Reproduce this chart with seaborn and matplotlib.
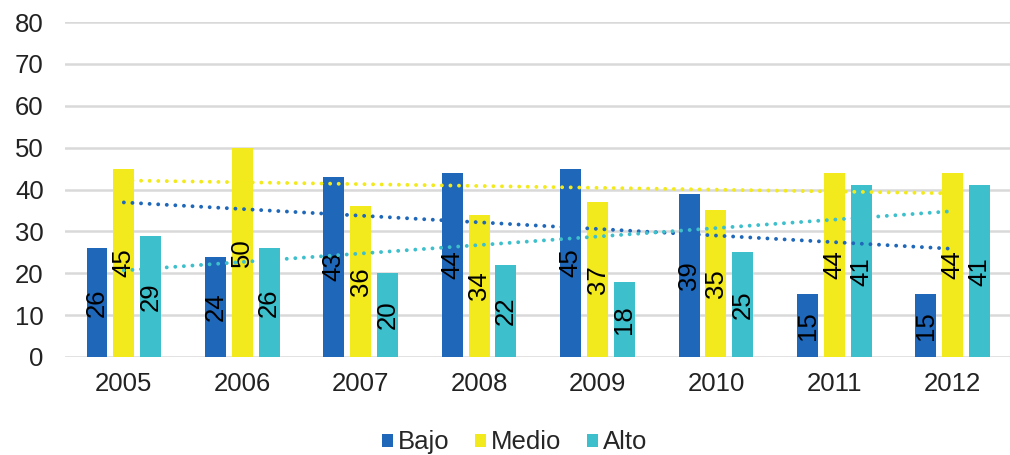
import matplotlib
matplotlib.use("Agg")
import matplotlib.pyplot as plt
import numpy as np
import pandas as pd
import seaborn as sns

years = ["2005", "2006", "2007", "2008", "2009", "2010", "2011", "2012"]
bajo = [26, 24, 43, 44, 45, 39, 15, 15]
medio = [45, 50, 36, 34, 37, 35, 44, 44]
alto = [29, 26, 20, 22, 18, 25, 41, 41]
series = ["Bajo", "Medio", "Alto"]
colors = ["#1f67b9", "#f2ea1c", "#3dbfcc"]

df = pd.DataFrame({"Año": years * 3,
                   "Nivel": np.repeat(series, len(years)),
                   "Valor": bajo + medio + alto})

sns.set_style("white")
plt.rcParams["font.family"] = ["Liberation Sans", "DejaVu Sans"]

fig = plt.figure(figsize=(10.1, 4.55), dpi=100)
ax = fig.add_axes([0.064, 0.2154, 0.938, 0.7362])

sns.barplot(data=df, x="Año", y="Valor", hue="Nivel", palette=colors,
            width=0.68, gap=0.22, saturation=1, linewidth=0, ax=ax, zorder=2)

for cont in ax.containers:
    ax.bar_label(cont, label_type="center", rotation=90, fontsize=18.5, color="black")

# linear trend lines (Excel style)
x = np.arange(len(years))
for vals, c in zip([bajo, medio, alto], colors):
    m, b = np.polyfit(x, vals, 1)
    ax.plot(x, m * x + b, linestyle=(0, (0.01, 2.2)), color=c, linewidth=2.8,
            dash_capstyle="round", solid_capstyle="round", zorder=3)

ax.set_ylim(0, 80)
ax.set_yticks(range(0, 81, 10))
ax.set_xlim(-0.5, len(years) - 0.5)
ax.yaxis.grid(True, color="#d9d9d9", linewidth=1.8)
ax.set_axisbelow(True)
for s in ax.spines.values():
    s.set_visible(False)
ax.set_xlabel("")
ax.set_ylabel("")
ax.tick_params(axis="y", length=0, pad=15, labelsize=18.5, labelcolor="#222222")
ax.tick_params(axis="x", length=0, pad=11, labelsize=18.5, labelcolor="#222222")

ax.legend(loc="upper center", bbox_to_anchor=(0.475, -0.15), ncol=3,
          frameon=False, fontsize=18.5, handlelength=0.42, handleheight=0.42,
          handletextpad=0.2, columnspacing=1.0)

fig.savefig("out.png", dpi=100)
